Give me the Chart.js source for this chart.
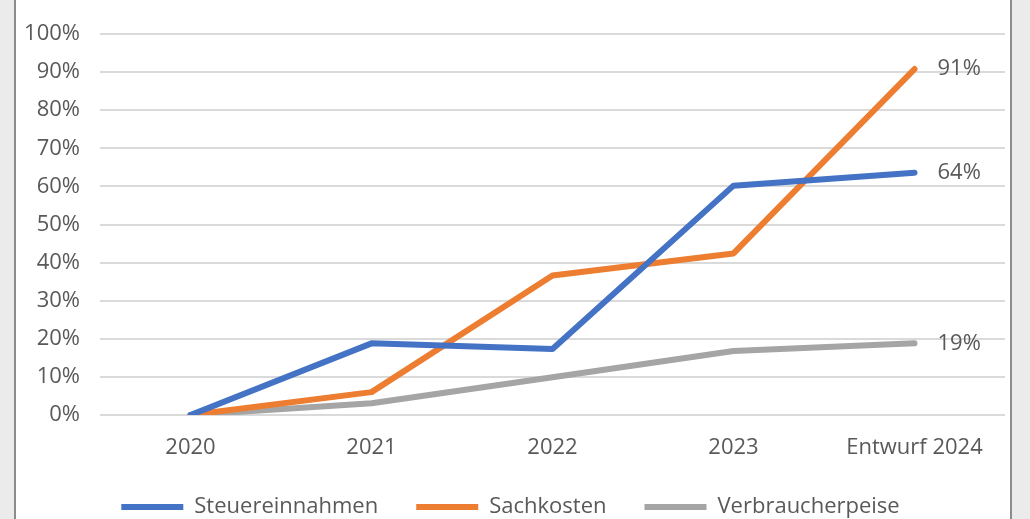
<!DOCTYPE html>
<html>
<head>
<meta charset="utf-8">
<script src="https://cdn.jsdelivr.net/npm/chart.js@4"></script>
<style>
  html, body { margin: 0; padding: 0; background: #fff; width: 1030px; height: 519px; overflow: hidden; }
  #leftEdge { position: absolute; left: 0; top: 0; width: 14px; height: 519px; background: #ebebeb; border-right: 2px solid #8c8c8c; }
  #rightEdge { position: absolute; left: 1010px; top: 0; width: 18px; height: 519px; background: #ebebeb; border-left: 2px solid #8c8c8c; }
  #wrap { position: absolute; left: 16px; top: 0; width: 994px; height: 519px; }
</style>
</head>
<body>
<div id="leftEdge"></div>
<div id="wrap"><canvas id="line-chart" width="994" height="519"></canvas></div>
<div id="rightEdge"></div>
<script>
const years = ["2020", "2021", "2022", "2023", "Entwurf 2024"];
const steuereinnahmen = [0, 18.8, 17.3, 60.2, 63.6];
const sachkosten = [0, 6.0, 36.6, 42.4, 90.8];
const verbraucherpreise = [0, 3.1, 9.9, 16.8, 18.8];
const percentTicks = [0, 10, 20, 30, 40, 50, 60, 70, 80, 90, 100];

const textColor = "#595959";
const fontFamily = "'Open Sans', sans-serif";

// writes the final value next to the last point of every line
const endLabels = {
  id: "endLabels",
  afterDatasetsDraw(chart) {
    const ctx = chart.ctx;
    ctx.save();
    ctx.font = "22px " + fontFamily;
    ctx.fillStyle = textColor;
    ctx.textAlign = "left";
    ctx.textBaseline = "middle";
    chart.data.datasets.forEach((ds, i) => {
      const meta = chart.getDatasetMeta(i);
      const last = meta.data[meta.data.length - 1];
      const v = ds.data[ds.data.length - 1];
      ctx.fillText(Math.round(v) + "%", last.x + 23, last.y);
    });
    ctx.restore();
  },
};

new Chart(document.getElementById("line-chart"), {
  type: "line",
  data: {
    labels: years,
    datasets: [
      {
        label: "Steuereinnahmen",
        data: steuereinnahmen,
        borderColor: "#4472c4",
        backgroundColor: "#4472c4",
      },
      {
        label: "Sachkosten",
        data: sachkosten,
        borderColor: "#ed7d31",
        backgroundColor: "#ed7d31",
      },
      {
        label: "Verbraucherpeise",
        data: verbraucherpreise,
        borderColor: "#a5a5a5",
        backgroundColor: "#a5a5a5",
      },
    ],
  },
  options: {
    responsive: false,
    animation: false,
    devicePixelRatio: 1,
    layout: { padding: { top: 34, right: 5, left: 0, bottom: -9 } },
    elements: {
      line: { borderWidth: 6, tension: 0, fill: false, borderCapStyle: "round", borderJoinStyle: "round" },
      point: { radius: 0, hoverRadius: 0 },
    },
    scales: {
      x: {
        offset: true,
        grid: { display: false },
        border: { display: false },
        ticks: { color: textColor, font: { family: fontFamily, size: 22 }, padding: 12, maxRotation: 0 },
        afterFit(scale) { scale.height = 43; },
      },
      y: {
        min: 0,
        max: 100,
        afterBuildTicks(scale) { scale.ticks = percentTicks.map((v) => ({ value: v })); },
        grid: { color: "#dadada", lineWidth: 2, drawTicks: false },
        border: { display: false },
        ticks: {
          color: textColor,
          font: { family: fontFamily, size: 22 },
          padding: 20,
          callback: (v) => v + "%",
        },
        afterFit(scale) { scale.width = 84; },
      },
    },
    plugins: {
      legend: {
        position: "bottom",
        labels: {
          color: textColor,
          font: { family: fontFamily, size: 22 },
          boxWidth: 62,
          boxHeight: 6,
          padding: 38,
          generateLabels(chart) {
            const items = Chart.defaults.plugins.legend.labels.generateLabels(chart);
            items.forEach((it) => { it.lineWidth = 0; it.fillStyle = it.strokeStyle; });
            return items;
          },
        },
      },
      tooltip: { enabled: false },
    },
  },
  plugins: [endLabels],
});
</script>
</body>
</html>
